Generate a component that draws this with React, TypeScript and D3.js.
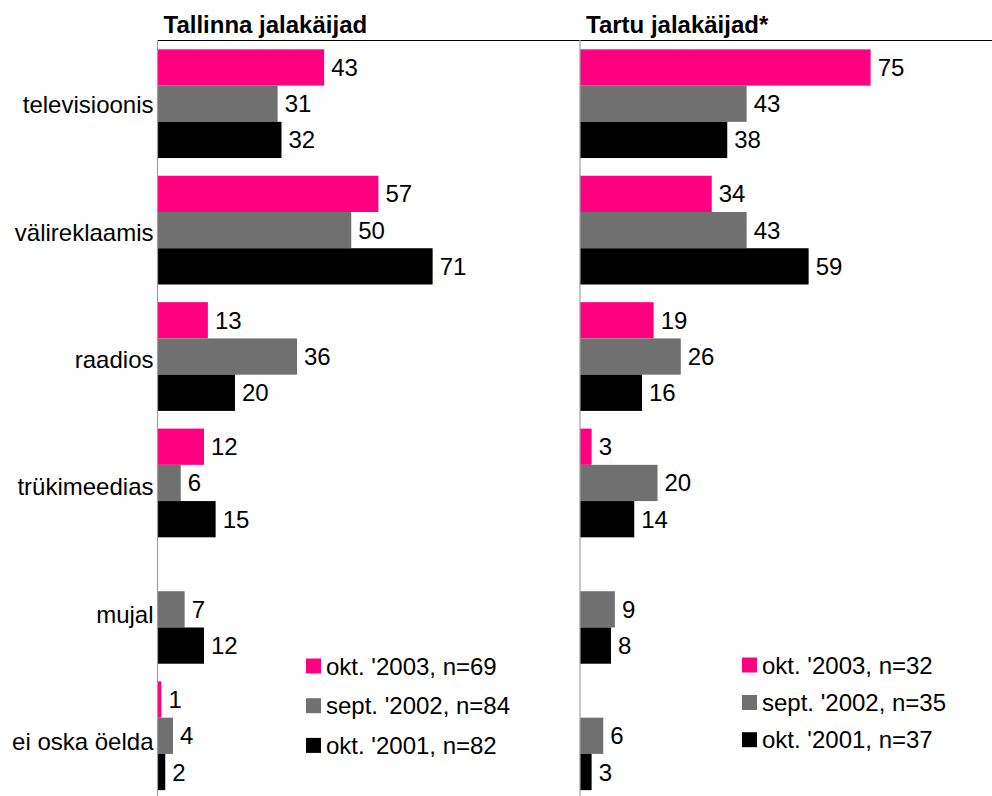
import React from "react"
import * as d3 from "d3"

const categories = [
  "televisioonis",
  "välireklaamis",
  "raadios",
  "trükimeedias",
  "mujal",
  "ei oska öelda",
]

const seriesKeys = ["2003", "2002", "2001"]
const seriesColors = ["#FF0080", "#707070", "#000000"]

// Tallinn, values per series (null = no bar)
const tallinn2003 = [43, 57, 13, 12, null, 1]
const tallinn2002 = [31, 50, 36, 6, 7, 4]
const tallinn2001 = [32, 71, 20, 15, 12, 2]
const tallinnLegend = ["okt. '2003, n=69", "sept. '2002, n=84", "okt. '2001, n=82"]

// Tartu
const tartu2003 = [75, 34, 19, 3, null, null]
const tartu2002 = [43, 43, 26, 20, 9, 6]
const tartu2001 = [38, 59, 16, 14, 8, 3]
const tartuLegend = ["okt. '2003, n=32", "sept. '2002, n=35", "okt. '2001, n=37"]

const FONT = "'Liberation Sans', Arial, sans-serif"

const y = d3
  .scaleBand<string>()
  .domain(categories)
  .range([40.5, 799])
  .paddingInner(0.14)
  .paddingOuter(0.07)

// category labels sit on a slightly longer axis, like the original
const yLabel = d3.scaleBand<string>().domain(categories).range([41, 805])

const ySub = d3
  .scaleBand<string>()
  .domain(seriesKeys)
  .range([0, y.bandwidth()])

const x = d3.scaleLinear().domain([0, 100]).range([0, 387.5])

type PanelProps = {
  left: number
  title: string
  values: (number | null)[][]
  legend: string[]
  legendX: number
  legendY: number[]
  showCategories: boolean
}

const Panel = ({ left, title, values, legend, legendX, legendY, showCategories }: PanelProps) => (
  <g>
    <text x={left + 6} y={33} fontFamily={FONT} fontSize={24} fontWeight="bold" fill="#000">
      {title}
    </text>
    {values.map((vals, si) =>
      vals.map((v, ci) => {
        if (v == null) return null
        const top = (y(categories[ci]) ?? 0) + (ySub(seriesKeys[si]) ?? 0)
        const h = ySub.bandwidth()
        return (
          <g key={`${si}-${ci}`}>
            <rect x={left} y={top} width={x(v)} height={h} fill={seriesColors[si]} />
            <text
              x={left + x(v) + 7}
              y={top + h / 2}
              dominantBaseline="central"
              fontFamily={FONT}
              fontSize={24}
              fill="#000"
            >
              {v}
            </text>
          </g>
        )
      })
    )}
    {showCategories &&
      categories.map((c) => (
        <text
          key={c}
          x={left - 4}
          y={(yLabel(c) ?? 0) + yLabel.bandwidth() / 2}
          textAnchor="end"
          dominantBaseline="central"
          fontFamily={FONT}
          fontSize={24}
          fill="#000"
        >
          {c}
        </text>
      ))}
    <line x1={left} x2={left} y1={40} y2={796} stroke="#a0a0a0" strokeWidth={1.2} />
    {legend.map((t, i) => (
      <g key={t}>
        <rect x={legendX} y={legendY[i] - 7.5} width={15} height={15} fill={seriesColors[i]} />
        <text
          x={legendX + 20}
          y={legendY[i]}
          dominantBaseline="central"
          fontFamily={FONT}
          fontSize={24}
          fill="#000"
        >
          {t}
        </text>
      </g>
    ))}
  </g>
)

export default function App() {
  return (
    <svg
      width={992}
      height={796}
      style={{ position: "absolute", left: 0, top: 0, background: "#fff" }}
    >
      <rect width={992} height={796} fill="#fff" />
      <line x1={157} x2={992} y1={40.5} y2={40.5} stroke="#000" strokeWidth={1.2} />
      <Panel
        left={157.5}
        title="Tallinna jalakäijad"
        values={[tallinn2003, tallinn2002, tallinn2001]}
        legend={tallinnLegend}
        legendX={306}
        legendY={[666, 705.7, 745.4]}
        showCategories
      />
      <Panel
        left={580}
        title="Tartu jalakäijad*"
        values={[tartu2003, tartu2002, tartu2001]}
        legend={tartuLegend}
        legendX={742}
        legendY={[665, 702.5, 739.7]}
        showCategories={false}
      />
    </svg>
  )
}
